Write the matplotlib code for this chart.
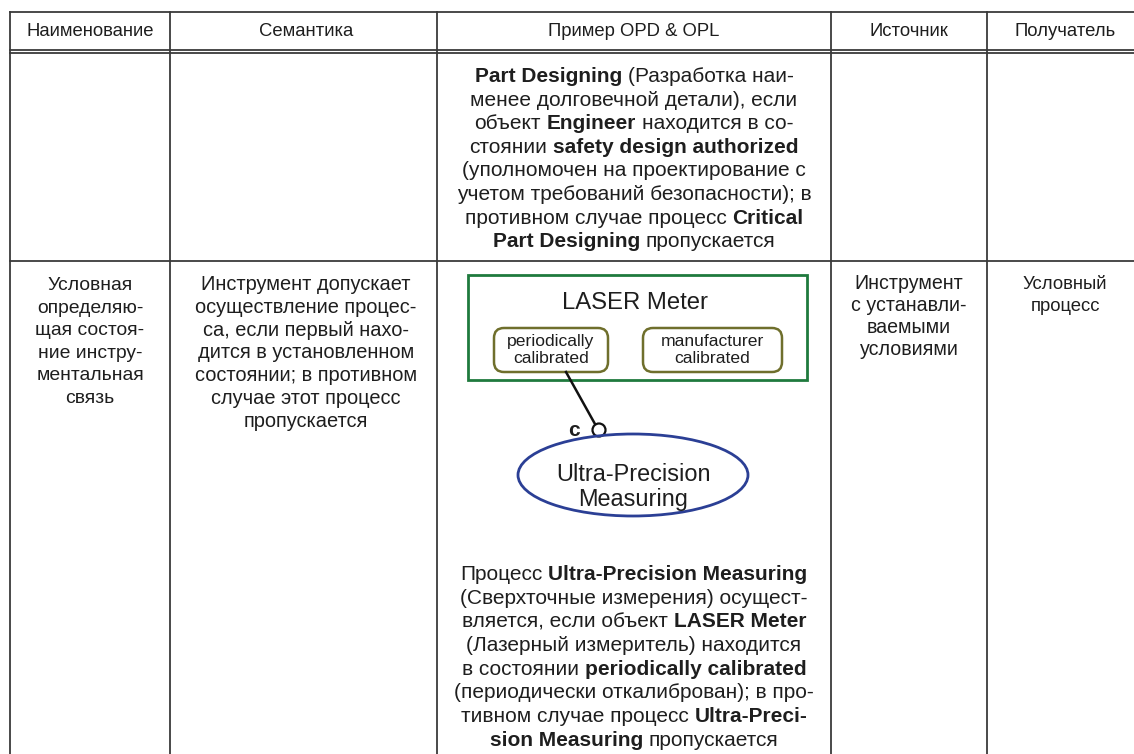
import matplotlib.pyplot as plt
from matplotlib.patches import FancyBboxPatch, Ellipse, Rectangle, Circle

plt.rcParams['font.family'] = ['Liberation Sans', 'DejaVu Sans']

# table geometry (pixels)
col_edges = [10, 170, 437, 831, 987, 1145]
top_y = 12
header_y = [49.5, 53]
row_sep_y = 261

header_labels = ["Наименование", "Семантика", "Пример OPD & OPL", "Источник", "Получатель"]

# text of the cells, ** marks bold
row1_example = [
    "**Part Designing** (Разработка наи-",
    "менее долговечной детали), если",
    "объект **Engineer** находится в со-",
    "стоянии **safety design authorized**",
    "(уполномочен на проектирование с",
    "учетом требований безопасности); в",
    "противном случае процесс **Critical**",
    "**Part Designing** пропускается",
]
row2_name = ["Условная", "определяю-", "щая состоя-", "ние инстру-", "ментальная", "связь"]
row2_semantics = ["Инструмент допускает", "осуществление процес-", "са, если первый нахо-",
                  "дится в установленном", "состоянии; в противном", "случае этот процесс",
                  "пропускается"]
row2_source = ["Инструмент", "с устанавли-", "ваемыми", "условиями"]
row2_target = ["Условный", "процесс"]
row2_example = [
    "Процесс **Ultra-Precision Measuring**",
    "(Сверхточные измерения) осущест-",
    "вляется, если объект **LASER Meter**",
    "(Лазерный измеритель) находится",
    "в состоянии **periodically calibrated**",
    "(периодически откалиброван); в про-",
    "тивном случае процесс **Ultra-Preci-**",
    "**sion Measuring** пропускается",
]

# OPD diagram
object_name = "LASER Meter"
states = ["periodically\ncalibrated", "manufacturer\ncalibrated"]
process_name = "Ultra-Precision\nMeasuring"
link_label = "c"

ink = "#1e1e1e"
line_c = "#3a3a3a"

fig = plt.figure(figsize=(11.34, 7.54), dpi=100)
ax = fig.add_axes([0, 0, 1, 1])
ax.set_xlim(0, 1134)
ax.set_ylim(754, 0)
ax.axis("off")

# grid lines
lw = 1.3
ax.plot([col_edges[0], 1134], [top_y, top_y], color=line_c, lw=lw)
for y in header_y:
    ax.plot([col_edges[0], 1134], [y, y], color=line_c, lw=lw)
ax.plot([col_edges[0], 1134], [row_sep_y, row_sep_y], color=line_c, lw=lw)
for x in col_edges[:-1]:
    ax.plot([x, x], [top_y, 754], color=line_c, lw=lw)

centers = [(col_edges[i] + col_edges[i + 1]) / 2 for i in range(5)]
centers[1] = 306
centers[4] = 1065

for c, lab in zip(centers, header_labels):
    ax.text(c, 36, lab, fontsize=13.3, ha="center", va="baseline", color=ink)

renderer = fig.canvas.get_renderer()


def text_width(t):
    return t.get_window_extent(renderer=renderer).width


def space_width(size):
    a = ax.text(0, 0, "x x", fontsize=size)
    b = ax.text(0, 0, "xx", fontsize=size)
    w = text_width(a) - text_width(b)
    a.remove()
    b.remove()
    return w


def rich_line(xc, yb, line, size):
    parts = line.split("**")
    texts = []
    for i, p in enumerate(parts):
        p = p.strip()
        if not p:
            continue
        t = ax.text(0, yb, p, fontsize=size, fontweight="bold" if i % 2 else "normal",
                    ha="left", va="baseline", color=ink)
        texts.append(t)
    sw = space_width(size)
    widths = [text_width(t) for t in texts]
    total = sum(widths) + sw * (len(texts) - 1)
    x = xc - total / 2
    for t, w in zip(texts, widths):
        t.set_x(x)
        x += w + sw


def block(xc, y0, lines, step, size):
    for i, ln in enumerate(lines):
        rich_line(xc, y0 + i * step, ln, size)


block(centers[2], 82, row1_example, 23.6, 15)
block(centers[0], 290, row2_name, 22.6, 13.9)
block(centers[1], 290, row2_semantics, 22.8, 14.4)
block(centers[3], 289, row2_source, 21.9, 14.1)
block(centers[4], 289, row2_target, 21.9, 13.3)
block(centers[2], 580, row2_example, 23.7, 15)

# OPD: object with states, condition link, process
ax.add_patch(Rectangle((468, 275), 339, 105, fill=False, ec="#1f7a3d", lw=2))
ax.text(635, 303, object_name, fontsize=17.2, ha="center", va="center", color=ink)
for (x0, x1), s in zip([(494, 608), (643, 782)], states):
    ax.add_patch(FancyBboxPatch((x0, 328), x1 - x0, 44, boxstyle="round,pad=0,rounding_size=10",
                                fill=False, ec="#6f6f2c", lw=1.8))
    ax.text((x0 + x1) / 2, 350, s, fontsize=12.6, ha="center", va="center",
            color=ink, linespacing=1.15)

ax.plot([566, 595], [372, 424], color="#111111", lw=1.8)
ax.add_patch(Circle((599, 430), 6.5, fill=False, ec="#111111", lw=1.6))
ax.text(574, 431, link_label, fontsize=15, fontweight="bold", ha="center", va="center", color=ink)

ax.add_patch(Ellipse((633, 475), 230, 82, fill=False, ec="#2b3f95", lw=2))
ax.text(633, 487, process_name, fontsize=16.9, ha="center", va="center", color=ink,
        linespacing=1.15)

fig.savefig("out.png", dpi=100)
